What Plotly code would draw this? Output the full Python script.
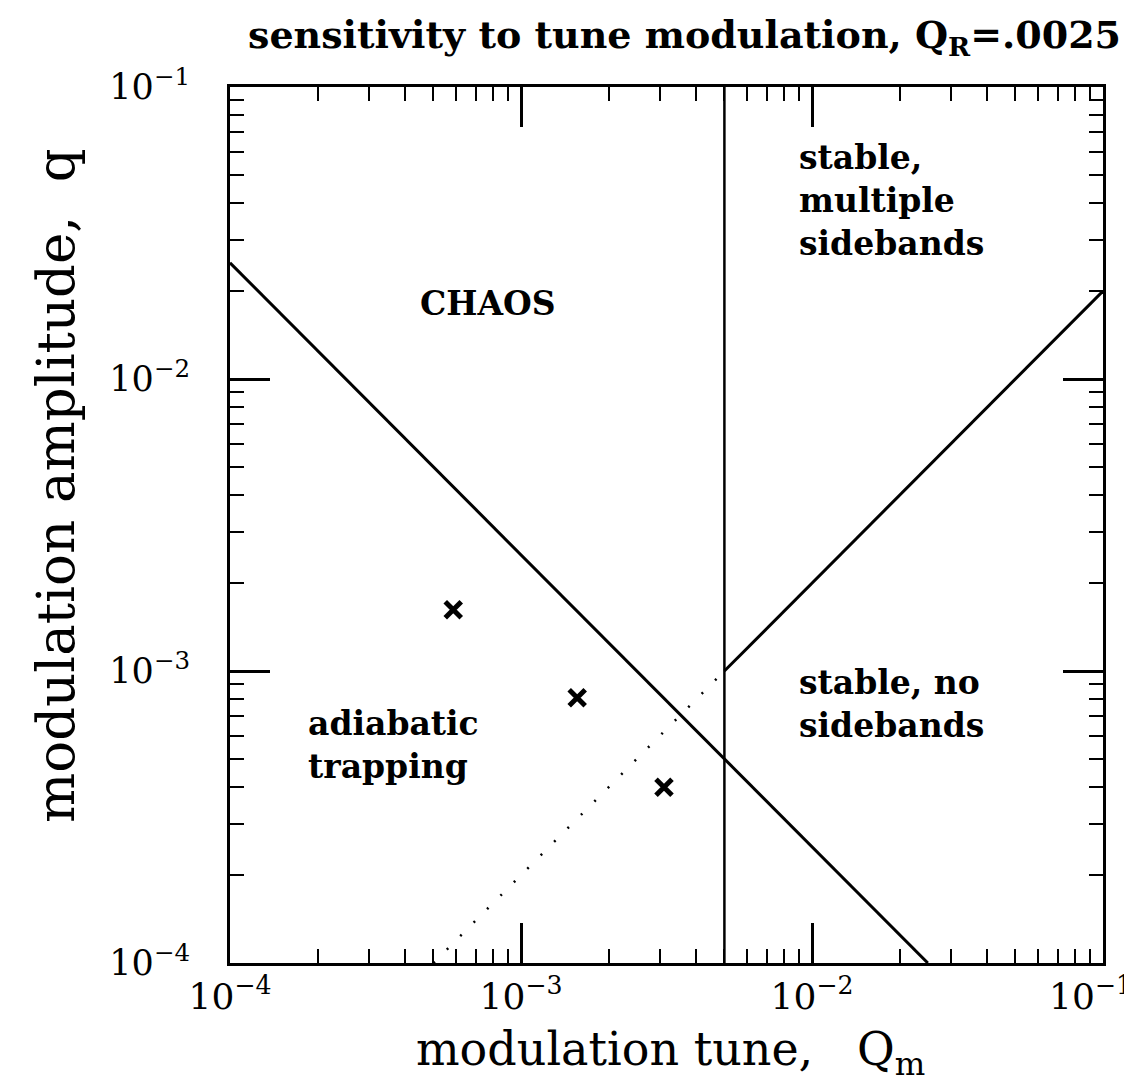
import plotly.graph_objects as go
import numpy as np

# ---- data ----
# boundary: chaos threshold q = const / Qm
chaos_qm = [1e-4, 2.5e-2]
chaos_q = [2.5e-2, 1e-4]
# vertical boundary at Qm = 2*QR
vert_qm = [5e-3, 5e-3]
vert_q = [1e-4, 1e-1]
# sideband boundary (solid part)
side_qm = [5e-3, 1e-1]
side_q = [1e-3, 2e-2]
# sideband boundary continuation (dotted)
dot_qm = [5e-4, 5e-3]
dot_q = [1e-4, 1e-3]
# simulated points
pts_qm = [5.85e-4, 1.56e-3, 3.1e-3]
pts_q = [1.62e-3, 8.1e-4, 4.0e-4]

tick_vals = [1e-4, 1e-3, 1e-2, 1e-1]
tick_text = ["10<sup>−4</sup>", "10<sup>−3</sup>", "10<sup>−2</sup>", "10<sup>−1</sup>"]

labels = [
    dict(text="CHAOS", x=7.7e-4, y=1.82e-2, anchor="center"),
    dict(text="stable,<br>multiple<br>sidebands", x=8.9e-3, y=4.1e-2, anchor="left"),
    dict(text="stable, no<br>sidebands", x=8.9e-3, y=7.73e-4, anchor="left"),
    dict(text="adiabatic<br>trapping", x=1.82e-4, y=5.58e-4, anchor="left"),
]

W, H = 1132, 1083
ML, MR, MT, MB = 222, 37, 79, 128
PW, PH = W - ML - MR, H - MT - MB


def px_to_paper(px, py):
    """page pixel -> plot-area paper fraction (for text placed outside the axes)"""
    return (px - ML) / PW, (H - MB - py) / PH


LBL_FONT = "DejaVu Serif"
fig = go.Figure()
line_style = dict(color="black", width=3)
fig.add_trace(go.Scatter(x=chaos_qm, y=chaos_q, mode="lines", line=line_style))
fig.add_trace(go.Scatter(x=vert_qm, y=vert_q, mode="lines", line=dict(color="black", width=2.5)))
fig.add_trace(go.Scatter(x=side_qm, y=side_q, mode="lines", line=line_style))
fig.add_trace(go.Scatter(x=dot_qm, y=dot_q, mode="lines",
                         line=dict(color="black", width=2.5, dash="2px,17px")))
fig.add_trace(go.Scatter(x=pts_qm, y=pts_q, mode="markers",
                         marker=dict(symbol="x-thin", size=16, color="black",
                                     line=dict(color="black", width=5))))

for lb in labels:
    fig.add_annotation(x=np.log10(lb["x"]), y=np.log10(lb["y"]), xref="x", yref="y",
                       text=lb["text"], showarrow=False, xanchor=lb["anchor"], align="left",
                       font=dict(family=LBL_FONT, size=33, color="black", weight="bold"))

# title
tx, ty = px_to_paper(676, 29)
fig.add_annotation(x=tx, y=ty, xref="paper", yref="paper",
                   text="sensitivity to tune modulation, Q<sub>R</sub>=.0025",
                   showarrow=False, xanchor="center", yanchor="middle",
                   font=dict(family=LBL_FONT, size=38, color="black", weight="bold"))

# y-axis title (sits above the axis centre in the reference)
yx, yy = px_to_paper(47, 478)
fig.add_annotation(x=yx, y=yy, xref="paper", yref="paper", textangle=-90,
                   text="modulation amplitude,&nbsp; q", showarrow=False,
                   xanchor="center", yanchor="middle",
                   font=dict(family=LBL_FONT, size=53, color="black"))

# x-axis title
xx, xy = px_to_paper(662, 1077)
fig.add_annotation(x=xx, y=xy, xref="paper", yref="paper",
                   text="modulation tune,&nbsp;&nbsp;&nbsp;Q<sub>m</sub>", showarrow=False,
                   xanchor="center", yanchor="bottom",
                   font=dict(family=LBL_FONT, size=46, color="black"))

# last x tick label is pulled inside the page, as in the reference
lx, ly = px_to_paper(1126, 961)
fig.add_annotation(x=lx, y=ly, xref="paper", yref="paper",
                   text=tick_text[-1], showarrow=False, xanchor="right", yanchor="top",
                   font=dict(family=LBL_FONT, size=36, color="black"))

axis_common = dict(
    type="log", range=[-4, -1], showgrid=False, zeroline=False, automargin=False,
    showline=True, linecolor="black", linewidth=3, mirror="ticks",
    ticks="inside", ticklen=40, tickwidth=2.5, tickcolor="black",
    tickvals=tick_vals,
    minor=dict(ticks="inside", ticklen=14, tickwidth=2, tickcolor="black",
               dtick="D1", showgrid=False),
)

fig.update_layout(
    width=W, height=H,
    margin=dict(l=ML, r=MR, t=MT, b=MB),
    paper_bgcolor="white", plot_bgcolor="white",
    showlegend=False,
    xaxis=dict(**axis_common, ticklabelstandoff=0,
               ticktext=tick_text[:-1] + [""],
               tickfont=dict(family=LBL_FONT, size=36, color="black")),
    yaxis=dict(**axis_common, ticklabelstandoff=30, ticktext=tick_text,
               tickfont=dict(family=LBL_FONT, size=35, color="black")),
)

fig.write_html("out.html")
